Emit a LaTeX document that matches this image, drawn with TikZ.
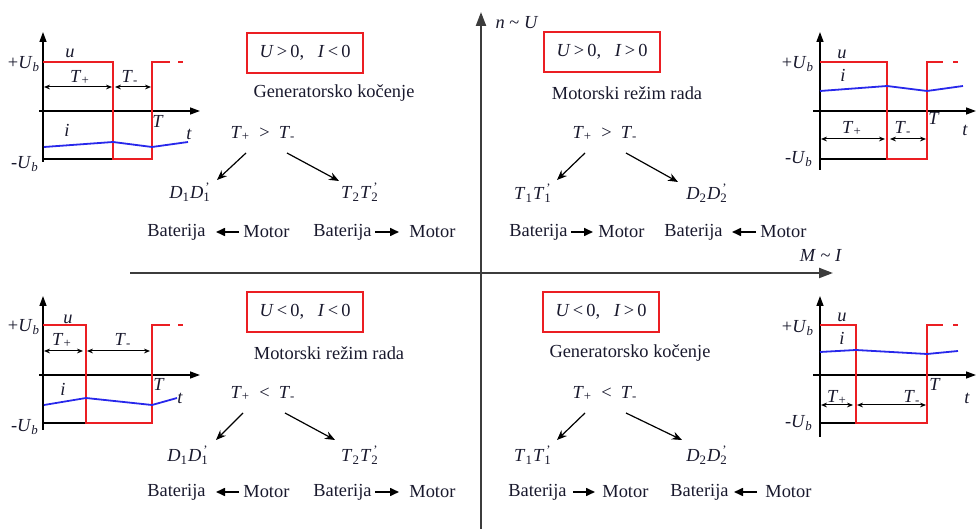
\documentclass[tikz,border=0pt]{standalone}
\usepackage{fontspec}
\setmainfont{Liberation Serif}
\usetikzlibrary{arrows.meta}
\definecolor{wred}{RGB}{235,30,35}
\definecolor{wblue}{RGB}{40,40,235}
\definecolor{axisgray}{RGB}{60,60,60}
\definecolor{txt}{RGB}{25,25,45}
\newcommand\iv[1]{\textit{#1}}
\newcommand\sbs[1]{\textsubscript{#1}}
\newcommand\sbp[1]{\rlap{\textsubscript{#1}}\textsuperscript{\,'}}
\tikzset{
  mainaxis/.style={draw=axisgray, line width=1.1pt, -{Triangle[length=7pt,width=5pt]}},
  waxis/.style={draw=black, line width=0.7pt, -{Triangle[length=5pt,width=3.5pt]}},
  uwave/.style={draw=wred, line width=0.8pt},
  iwave/.style={draw=wblue, line width=0.9pt},
  ubline/.style={draw=black, line width=0.7pt},
  dimarrow/.style={draw=black, line width=0.5pt, {Stealth[length=3pt,width=2.4pt]}-{Stealth[length=3pt,width=2.4pt]}},
  condbox/.style={draw=wred, line width=0.8pt, minimum width=58pt, minimum height=20pt, inner sep=0pt},
  branch/.style={draw=black, line width=0.6pt, -{Stealth[length=5pt,width=4pt]}},
  flow/.style={draw=black, line width=0.8pt, -{Triangle[length=4.5pt,width=4pt]}},
  lbl/.style={inner sep=0pt, text=txt},
}
\begin{document}
\begin{tikzpicture}[x=0.5pt, y=-0.5pt, font=\fontsize{9.2}{11}\selectfont]
\useasboundingbox (0,0) rectangle (976,529);

% ---------- main axes ----------
\coordinate (vbot) at (481,529);
\coordinate (vtop) at (481,12);
\coordinate (hleft) at (130,273);
\coordinate (hright) at (833,273);
\draw[mainaxis] (vbot) -- (vtop);
\draw[mainaxis] (hleft) -- (hright);
\node[lbl] (nU) at (517,23) {\iv{n} \textasciitilde{} \iv{U}};
\node[lbl] (MI) at (821,255) {\iv{M} \textasciitilde{} \iv{I}};

% ---------- waveform top-left ----------
\draw[waxis] (43,162) -- (43,32);
\draw[waxis] (39,111) -- (200,111);
\draw[ubline] (43,159) -- (113,159);
\draw[uwave] (43,62) -- (113,62) -- (113,159) -- (152,159) -- (152,62) -- (170,62);
\draw[uwave] (178,62) -- (183,62);
\draw[iwave] (44,147) -- (113,142) -- (152,147) -- (188,142);
\draw[dimarrow] (44,87) -- (112,87);
\draw[dimarrow] (115,87) -- (151,87);
\node[lbl] (tlu) at (70,53) {\iv{u}};
\node[lbl] (tlUp) at (24,64) {+\iv{U}\sbs{\iv{b}}};
\node[lbl] (tlUm) at (25,164) {-\iv{U}\sbs{\iv{b}}};
\node[lbl] (tlTp) at (80,77) {\iv{T}\sbs{+}};
\node[lbl] (tlTm) at (130,77) {\iv{T}\sbs{-}};
\node[lbl] (tlT) at (158,121) {\iv{T}};
\node[lbl] (tlt) at (189,134) {\iv{t}};
\node[lbl] (tli) at (67,130) {\iv{i}};

% ---------- waveform top-right ----------
\draw[waxis] (820,170) -- (820,32);
\draw[waxis] (813,111) -- (976,111);
\draw[ubline] (820,159) -- (887,159);
\draw[uwave] (820,62) -- (887,62) -- (887,159) -- (927,159) -- (927,62) -- (943,62);
\draw[uwave] (953,62) -- (958,62);
\draw[iwave] (820,91) -- (887,86) -- (927,91) -- (963,86);
\draw[dimarrow] (821,139) -- (885,139);
\draw[dimarrow] (890,139) -- (926,139);
\node[lbl] (tru) at (842,54) {\iv{u}};
\node[lbl] (tri) at (843,75) {\iv{i}};
\node[lbl] (trUp) at (798,64) {+\iv{U}\sbs{\iv{b}}};
\node[lbl] (trUm) at (799,159) {-\iv{U}\sbs{\iv{b}}};
\node[lbl] (trTp) at (852,128) {\iv{T}\sbs{+}};
\node[lbl] (trTm) at (903,128) {\iv{T}\sbs{-}};
\node[lbl] (trT) at (934,118) {\iv{T}};
\node[lbl] (trt) at (965,130) {\iv{t}};

% ---------- waveform bottom-left ----------
\draw[waxis] (43,430) -- (43,296);
\draw[waxis] (39,375) -- (200,375);
\draw[ubline] (43,423) -- (86,423);
\draw[uwave] (43,325) -- (86,325) -- (86,423) -- (152,423) -- (152,325) -- (170,325);
\draw[uwave] (178,325) -- (183,325);
\draw[iwave] (44,405) -- (86,398) -- (152,405) -- (177,398);
\draw[dimarrow] (44,351) -- (83,351);
\draw[dimarrow] (87,351) -- (150,351);
\node[lbl] (blu) at (68,319) {\iv{u}};
\node[lbl] (blUp) at (24,327) {+\iv{U}\sbs{\iv{b}}};
\node[lbl] (blUm) at (25,427) {-\iv{U}\sbs{\iv{b}}};
\node[lbl] (blTp) at (62,340) {\iv{T}\sbs{+}};
\node[lbl] (blTm) at (123,340) {\iv{T}\sbs{-}};
\node[lbl] (blT) at (159,384) {\iv{T}};
\node[lbl] (blt) at (180,398) {\iv{t}};
\node[lbl] (bli) at (63,389) {\iv{i}};

% ---------- waveform bottom-right ----------
\draw[waxis] (820,437) -- (820,296);
\draw[waxis] (813,375) -- (976,375);
\draw[ubline] (820,423) -- (856,423);
\draw[uwave] (820,325) -- (856,325) -- (856,423) -- (927,423) -- (927,325) -- (943,325);
\draw[uwave] (953,325) -- (958,325);
\draw[iwave] (820,352) -- (856,350) -- (927,354) -- (958,351);
\draw[dimarrow] (821,405) -- (853,405);
\draw[dimarrow] (857,405) -- (926,405);
\node[lbl] (bru) at (842,317) {\iv{u}};
\node[lbl] (bri) at (842,338) {\iv{i}};
\node[lbl] (brUp) at (798,328) {+\iv{U}\sbs{\iv{b}}};
\node[lbl] (brUm) at (799,423) {-\iv{U}\sbs{\iv{b}}};
\node[lbl] (brTp) at (837,397) {\iv{T}\sbs{+}};
\node[lbl] (brTm) at (912,397) {\iv{T}\sbs{-}};
\node[lbl] (brT) at (935,384) {\iv{T}};
\node[lbl] (brt) at (967,398) {\iv{t}};

% ---------- quadrant top-left ----------
\node[condbox, lbl] (tlbox) at (305,53) {\iv{U}\,>\,0,\ \ \ \iv{I}\,<\,0};
\node[lbl] (tlmode) at (334,93) {Generatorsko kočenje};
\node[lbl] (tlineq) at (263,133) {\iv{T}\sbs{+}\ \ >\ \ \iv{T}\sbs{-}};
\node[lbl] (tlL) at (190,192) {\iv{D}\sbs{1}\iv{D}\sbp{1}};
\node[lbl] (tlR) at (360,192) {\iv{T}\sbs{2}\iv{T}\sbp{2}};
\coordinate (tla1) at (246,153); \coordinate (tla2) at (217,180);
\coordinate (tlb1) at (287,153); \coordinate (tlb2) at (339,181);
\draw[branch] (tla1) -- (tla2);
\draw[branch] (tlb1) -- (tlb2);
\node[lbl, anchor=east] (tlBat1) at (206,232) {Baterija};
\node[lbl, anchor=west] (tlMot1) at (243,232) {Motor};
\node[lbl, anchor=east] (tlBat2) at (372,232) {Baterija};
\node[lbl, anchor=west] (tlMot2) at (409,232) {Motor};
\draw[flow, shorten >=5pt, shorten <=2pt] (tlMot1.west) -- (tlBat1.east);
\draw[flow, shorten <=1.5pt, shorten >=5pt] (tlBat2.east) -- (tlMot2.west);

% ---------- quadrant top-right ----------
\node[condbox, lbl] (trbox) at (602,52) {\iv{U}\,>\,0,\ \ \ \iv{I}\,>\,0};
\node[lbl] (trmode) at (627,93) {Motorski režim rada};
\node[lbl] (trineq) at (605,133) {\iv{T}\sbs{+}\ \ >\ \ \iv{T}\sbs{-}};
\node[lbl] (trL) at (533,193) {\iv{T}\sbs{1}\iv{T}\sbp{1}};
\node[lbl] (trR) at (707,193) {\iv{D}\sbs{2}\iv{D}\sbp{2}};
\coordinate (tra1) at (585,153); \coordinate (tra2) at (557,180);
\coordinate (trb1) at (626,153); \coordinate (trb2) at (678,182);
\draw[branch] (tra1) -- (tra2);
\draw[branch] (trb1) -- (trb2);
\node[lbl, anchor=east] (trBat1) at (568,232) {Baterija};
\node[lbl, anchor=west] (trMot1) at (598,232) {Motor};
\node[lbl, anchor=east] (trBat2) at (723,232) {Baterija};
\node[lbl, anchor=west] (trMot2) at (760,232) {Motor};
\draw[flow, shorten <=1.5pt, shorten >=2.5pt] (trBat1.east) -- (trMot1.west);
\draw[flow, shorten >=4.5pt, shorten <=2pt] (trMot2.west) -- (trBat2.east);

% ---------- quadrant bottom-left ----------
\node[condbox, lbl] (blbox) at (305,312) {\iv{U}\,<\,0,\ \ \ \iv{I}\,<\,0};
\node[lbl] (blmode) at (329,353) {Motorski režim rada};
\node[lbl] (blineq) at (263,393) {\iv{T}\sbs{+}\ \ <\ \ \iv{T}\sbs{-}};
\node[lbl] (blL) at (188,455) {\iv{D}\sbs{1}\iv{D}\sbp{1}};
\node[lbl] (blR) at (360,455) {\iv{T}\sbs{2}\iv{T}\sbp{2}};
\coordinate (bla1) at (243,413); \coordinate (bla2) at (216,440);
\coordinate (blb1) at (285,413); \coordinate (blb2) at (335,440);
\draw[branch] (bla1) -- (bla2);
\draw[branch] (blb1) -- (blb2);
\node[lbl, anchor=east] (blBat1) at (206,492) {Baterija};
\node[lbl, anchor=west] (blMot1) at (243,492) {Motor};
\node[lbl, anchor=east] (blBat2) at (372,492) {Baterija};
\node[lbl, anchor=west] (blMot2) at (409,492) {Motor};
\draw[flow, shorten >=5pt, shorten <=2pt] (blMot1.west) -- (blBat1.east);
\draw[flow, shorten <=1.5pt, shorten >=5pt] (blBat2.east) -- (blMot2.west);

% ---------- quadrant bottom-right ----------
\node[condbox, lbl] (brbox) at (601,312) {\iv{U}\,<\,0,\ \ \ \iv{I}\,>\,0};
\node[lbl] (brmode) at (630,353) {Generatorsko kočenje};
\node[lbl] (brineq) at (605,393) {\iv{T}\sbs{+}\ \ <\ \ \iv{T}\sbs{-}};
\node[lbl] (brL) at (533,455) {\iv{T}\sbs{1}\iv{T}\sbp{1}};
\node[lbl] (brR) at (707,455) {\iv{D}\sbs{2}\iv{D}\sbp{2}};
\coordinate (bra1) at (585,413); \coordinate (bra2) at (557,440);
\coordinate (brb1) at (626,413); \coordinate (brb2) at (682,440);
\draw[branch] (bra1) -- (bra2);
\draw[branch] (brb1) -- (brb2);
\node[lbl, anchor=east] (brBat1) at (567,492) {Baterija};
\node[lbl, anchor=west] (brMot1) at (602,492) {Motor};
\node[lbl, anchor=east] (brBat2) at (729,492) {Baterija};
\node[lbl, anchor=west] (brMot2) at (765,492) {Motor};
\draw[flow, shorten <=3pt, shorten >=3.5pt] (brBat1.east) -- (brMot1.west);
\draw[flow, shorten >=2.5pt, shorten <=4pt] (brMot2.west) -- (brBat2.east);
\end{tikzpicture}
\end{document}
